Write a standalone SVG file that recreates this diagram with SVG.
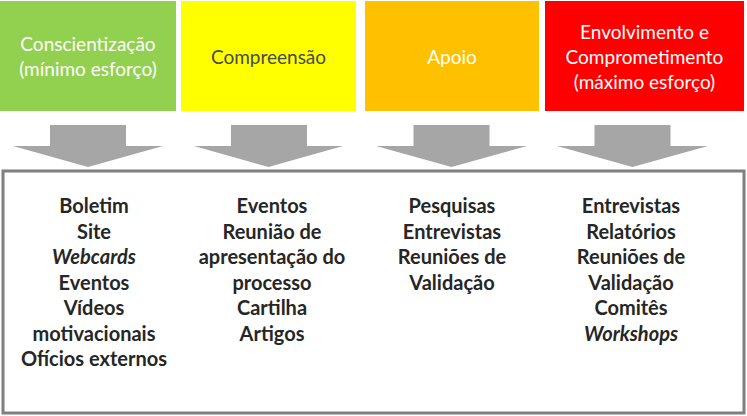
<svg xmlns="http://www.w3.org/2000/svg" width="747" height="416" viewBox="0 0 747 416">
<style>
.hd{font-family:Lato,"Open Sans",sans-serif;font-size:19px;text-anchor:middle;fill:#ffffff}
.hd.dark{fill:#454a55}
.bd{font-family:Lato,"Open Sans",sans-serif;font-size:20px;font-weight:bold;text-anchor:middle;fill:#262626}
.it{font-style:italic}
.arr{fill:#a6a6a6}
</style>
<rect width="747" height="416" fill="#ffffff"/>
<g id="n1"><rect x="0" y="1" width="176" height="110" fill="#92d050"/>
<text class="hd"><tspan x="88" y="50.5">Conscientização</tspan><tspan x="88" y="75.5">(mínimo esforço)</tspan></text></g>
<g id="n2"><rect x="181" y="1" width="175" height="110" fill="#ffff00"/>
<text class="hd dark" x="268.5" y="63.5">Compreensão</text></g>
<g id="n3"><rect x="365" y="1" width="174" height="110" fill="#ffc000"/>
<text class="hd" x="452" y="63.5">Apoio</text></g>
<g id="n4"><rect x="545" y="1" width="199" height="110" fill="#ff0000"/>
<text class="hd"><tspan x="644.5" y="38.5">Envolvimento e</tspan><tspan x="644.5" y="63.5">Comprometimento</tspan><tspan x="644.5" y="88.5">(máximo esforço)</tspan></text></g>
<g id="connectors">
<polygon class="arr" points="50,125 126,125 126,146 163,146 88,167 13,146 50,146"/>
<polygon class="arr" points="231,125 307,125 307,146 343,146 268.5,167 194,146 231,146"/>
<polygon class="arr" points="413.5,125 489.5,125 489.5,146 527,146 451.5,167 376,146 413.5,146"/>
<polygon class="arr" points="594.5,125 670.5,125 670.5,146 708,146 632.5,167 557,146 594.5,146"/>
</g>
<g id="content">
<rect x="3" y="171" width="741" height="242" fill="#ffffff" stroke="#7f7f7f" stroke-width="3"/>
<text class="bd"><tspan x="94" y="213">Boletim</tspan><tspan x="94" y="238.5">Site</tspan><tspan x="94" y="264" class="it">Webcards</tspan><tspan x="94" y="289.5">Eventos</tspan><tspan x="94" y="315">Vídeos</tspan><tspan x="94" y="340.5">motivacionais</tspan><tspan x="94" y="366">Ofícios externos</tspan></text>
<text class="bd"><tspan x="272" y="213">Eventos</tspan><tspan x="272" y="238.5">Reunião de</tspan><tspan x="272" y="264">apresentação do</tspan><tspan x="272" y="289.5">processo</tspan><tspan x="272" y="315">Cartilha</tspan><tspan x="272" y="340.5">Artigos</tspan></text>
<text class="bd"><tspan x="452" y="213">Pesquisas</tspan><tspan x="452" y="238.5">Entrevistas</tspan><tspan x="452" y="264">Reuniões de</tspan><tspan x="452" y="289.5">Validação</tspan></text>
<text class="bd"><tspan x="631" y="213">Entrevistas</tspan><tspan x="631" y="238.5">Relatórios</tspan><tspan x="631" y="264">Reuniões de</tspan><tspan x="631" y="289.5">Validação</tspan><tspan x="631" y="315">Comitês</tspan><tspan x="631" y="340.5" class="it">Workshops</tspan></text>
</g>
</svg>
